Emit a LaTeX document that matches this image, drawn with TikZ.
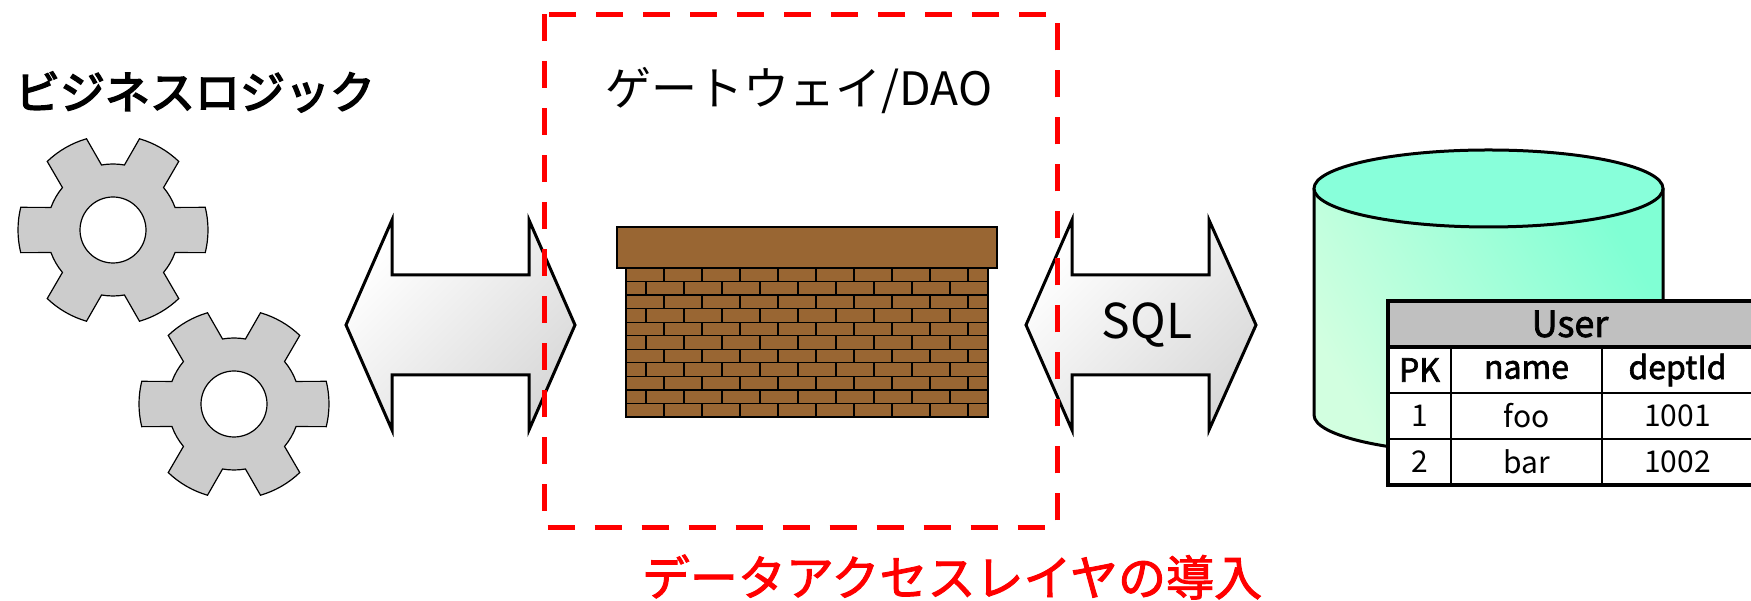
\documentclass[tikz,border=0pt]{standalone}
\usepackage{fontspec}
\setmainfont{Noto Sans CJK JP}
\newfontfamily\heavyfont[FakeBold=3.5]{Noto Sans CJK JP}
\newfontfamily\midfont[FakeBold=2]{Noto Sans CJK JP}
\usepackage{tikz}
\usetikzlibrary{calc}
\definecolor{brick}{HTML}{996633}
\definecolor{gearfill}{HTML}{CCCCCC}
\definecolor{dbtop}{HTML}{88FFDA}
\definecolor{dblight}{HTML}{D2FFE0}
\definecolor{dbdark}{HTML}{80FFD4}
\definecolor{headfill}{HTML}{C0C0C0}
\tikzset{
    gear/.style={fill=gearfill, draw=black, line width=1.2pt},
    blockarrow/.style={draw=black, line width=3pt, line join=miter, top color=white, bottom color=black!15, shading angle=45},
    mortar/.style={draw=black, line width=1.3pt},
    heading/.style={inner sep=0pt, font=\fontsize{45}{54}\selectfont\heavyfont},
    tablecell/.style={inner sep=0pt, font=\fontsize{30}{36}\selectfont}
}

\begin{document}
\begin{tikzpicture}[x=1pt,y=1pt]
\useasboundingbox (0,0) rectangle (1751,601);
\node (logic) at (195,509)[heading] {ビジネスロジック};
\node (gateway) at (799,510)[heading, font=\fontsize{46}{54}\selectfont] {ゲートウェイ/DAO};
\foreach \cx/\cy/\p in {113/371/gearA, 234/197/gearB}{
    \coordinate (\p) at (\cx,\cy);
    \draw[gear, shift={(\p)}] (-20:66) foreach \t in {0,60,...,300} {
        -- (\t-13.8:95) arc[start angle=\t-13.8, end angle=\t+13.8, radius=95]
        -- (\t+20:66) arc[start angle=\t+20, end angle=\t+40, radius=66]} -- cycle;
    \draw[fill=white, line width=1.2pt] (\p) circle (33);
}
\foreach \a/\b/\c/\d/\p in {346/392/529/575/apiarrow, 1026/1072/1209/1256/sqlarrow}{
    \coordinate (\p) at ({(\a+\d)/2},276);
    \path[blockarrow] (\a,276) -- (\b,381) -- (\b,326) -- (\c,326) -- (\c,381) -- (\d,276)
        -- (\c,171) -- (\c,226) -- (\b,226) -- (\b,171) -- cycle;
}
\node (sql) at (1147,276)[inner sep=0pt, font=\fontsize{48}{56}\selectfont] {SQL};
\filldraw[fill=brick, line width=2pt] (626,184) rectangle (988,333);
\foreach \r in {0,...,10}{
    \pgfmathsetmacro\yb{184+\r*13.545}
    \pgfmathsetmacro\off{mod(\r,2)*18}
    \draw[mortar] (626,\yb) -- (988,\yb);
    \foreach \k in {0,...,8}
        \draw[mortar] ({664+38*\k-\off},\yb) -- ++(0,13.545);
}
\filldraw[fill=brick, line width=2pt] (617,333) rectangle (997,374);
\draw[red, line width=5pt, dash pattern=on 27pt off 20pt] (544,586.5) rectangle (1057,73);
\node (layer) at (952,24)[heading, text=red, font=\fontsize{48}{56}\selectfont\midfont] {データアクセスレイヤの導入};
\shade[left color=dblight, right color=dbdark, shading angle=120] (1314,412.5) -- (1314,186)
    arc[start angle=180, end angle=360, x radius=174.5, y radius=38.5] -- (1663,412.5) -- cycle;
\draw[line width=3pt] (1314,412.5) -- (1314,186)
    arc[start angle=180, end angle=360, x radius=174.5, y radius=38.5] -- (1663,412.5);
\filldraw[fill=dbtop, line width=3pt] (1488.5,412.5) ellipse [x radius=174.5, y radius=38.5];
\begin{scope}
    \clip (0,0) rectangle (1751,601);
    \fill[headfill] (1388,254) rectangle (1756,300);
    \fill[white] (1388,116) rectangle (1756,254);
    \draw[line width=1.5pt] (1388,208) -- (1756,208) (1388,162) -- (1756,162)
        (1451,254) -- (1451,116) (1602,254) -- (1602,116);
    \draw[line width=4pt] (1388,254) -- (1756,254);
    \draw[line width=4pt] (1388,116) rectangle (1756,300);
    \node (user) at (1570,277)[tablecell, font=\fontsize{36}{42}\selectfont\midfont] {User};
    \foreach \x/\y/\p/\t in {1419.5/231/pk/PK, 1526.5/231/name/name, 1677.5/231/dept/deptId}
        \node (\p) at (\x,\y)[tablecell, font=\fontsize{32}{38}\selectfont\midfont] {\t};
    \foreach \x/\y/\p/\t in {1419.5/185/pkA/1, 1526.5/185/nameA/foo, 1677.5/185/deptA/1001,
        1419.5/139/pkB/2, 1526.5/139/nameB/bar, 1677.5/139/deptB/1002}
        \node (\p) at (\x,\y)[tablecell] {\t};
\end{scope}
\end{tikzpicture}
\end{document}
